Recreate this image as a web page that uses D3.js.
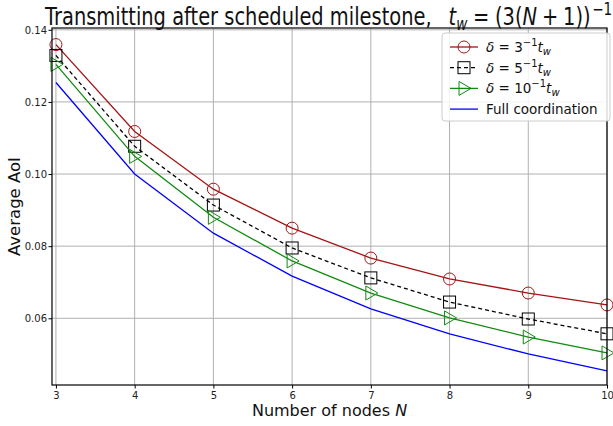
<!DOCTYPE html>
<html>
<head>
<meta charset="utf-8">
<script src="https://cdn.jsdelivr.net/npm/d3@7"></script>
<style>
  body { margin: 0; background: #fff; }
  text { font-family: "DejaVu Sans", sans-serif; }
</style>
</head>
<body>
<div id="chart"></div>
<script>
var svgWidth = 613;
var svgHeight = 426;

var margin = { top: 28, right: 6, bottom: 41, left: 52 };
var width = svgWidth - margin.left - margin.right;
var height = svgHeight - margin.top - margin.bottom;

// data
var nodes = [3, 4, 5, 6, 7, 8, 9, 10];
var delta3 = [0.1359, 0.1118, 0.0958, 0.0850, 0.0767, 0.0709, 0.0670, 0.0637];
var delta5 = [0.1329, 0.1077, 0.0914, 0.0795, 0.0712, 0.0645, 0.0598, 0.0557];
var delta10 = [0.1304, 0.1049, 0.0880, 0.0759, 0.0670, 0.0601, 0.0548, 0.0504];
var fullCoord = [0.1254, 0.1000, 0.0836, 0.0717, 0.0626, 0.0557, 0.0501, 0.0454];
var yTicks = [0.06, 0.08, 0.10, 0.12, 0.14];

var series = [
  { values: delta3, color: "#a31515", dash: null, marker: "circle" },
  { values: delta5, color: "#000000", dash: "4,3", marker: "square" },
  { values: delta10, color: "#108a10", dash: null, marker: "triangle" },
  { values: fullCoord, color: "#0000ff", dash: null, marker: null }
];

var svg = d3.select("#chart")
  .append("svg")
  .attr("width", svgWidth)
  .attr("height", svgHeight);

var chartGroup = svg.append("g")
  .attr("transform", `translate(${margin.left}, ${margin.top})`);

var xScale = d3.scaleLinear().domain([2.95, 10.0]).range([0, width]);
var yScale = d3.scaleLinear().domain([0.0415, 0.1405]).range([height, 0]);

// grid
chartGroup.append("g")
  .selectAll("line")
  .data(nodes)
  .enter()
  .append("line")
  .attr("x1", d => xScale(d)).attr("x2", d => xScale(d))
  .attr("y1", 0).attr("y2", height)
  .attr("stroke", "#b0b0b0").attr("stroke-width", 1);

chartGroup.append("g")
  .selectAll("line")
  .data(yTicks)
  .enter()
  .append("line")
  .attr("x1", 0).attr("x2", width)
  .attr("y1", d => yScale(d)).attr("y2", d => yScale(d))
  .attr("stroke", "#b0b0b0").attr("stroke-width", 1);

// axes
var bottomAxis = d3.axisBottom(xScale).tickValues(nodes).tickSize(3.5).tickFormat(d3.format("d"));
var leftAxis = d3.axisLeft(yScale).tickValues(yTicks).tickSize(3.5).tickFormat(d3.format(".2f"));

var xAxis = chartGroup.append("g")
  .attr("transform", `translate(0, ${height})`)
  .call(bottomAxis);
var yAxis = chartGroup.append("g").call(leftAxis);

[xAxis, yAxis].forEach(function (ax) {
  ax.select(".domain").remove();
  ax.selectAll("text").attr("font-size", 10).attr("fill", "#222")
    .style("font-family", "DejaVu Sans, sans-serif");
  ax.selectAll("line").attr("stroke", "#000");
});
yAxis.selectAll("text").attr("x", -5);

// lines and markers
var line = d3.line()
  .x((d, i) => xScale(nodes[i]))
  .y(d => yScale(d));

function drawMarker(g, type, color, x, y) {
  if (type === "circle") {
    g.append("circle").attr("cx", x).attr("cy", y).attr("r", 6)
      .attr("fill", "none").attr("stroke", color).attr("stroke-width", 1);
  } else if (type === "square") {
    g.append("rect").attr("x", x - 6).attr("y", y - 6).attr("width", 12).attr("height", 12)
      .attr("fill", "none").attr("stroke", color).attr("stroke-width", 1);
  } else if (type === "triangle") {
    g.append("path")
      .attr("d", `M${x + 7},${y} L${x - 5},${y - 7} L${x - 5},${y + 7} Z`)
      .attr("fill", "none").attr("stroke", color).attr("stroke-width", 1);
  }
}

var plotArea = chartGroup.append("g");
series.forEach(function (s) {
  plotArea.append("path")
    .datum(s.values)
    .attr("d", line)
    .attr("fill", "none")
    .attr("stroke", s.color)
    .attr("stroke-width", 1.3)
    .attr("stroke-dasharray", s.dash);
  if (s.marker) {
    s.values.forEach(function (v, i) {
      drawMarker(plotArea, s.marker, s.color, xScale(nodes[i]), yScale(v));
    });
  }
});

// frame
chartGroup.append("rect")
  .attr("width", width).attr("height", height)
  .attr("fill", "none").attr("stroke", "#000").attr("stroke-width", 1.2);

// legend
var legend = svg.append("g").attr("transform", "translate(442, 33)");
legend.append("rect")
  .attr("width", 168).attr("height", 88).attr("rx", 3)
  .attr("fill", "#fff").attr("fill-opacity", 0.85)
  .attr("stroke", "#ccc").attr("stroke-width", 1);

var legendNums = ["3", "5", "10"];
var legendLast = "Full coordination";

series.forEach(function (s, i) {
  var y = 14 + i * 20.7;
  legend.append("line")
    .attr("x1", 8).attr("x2", 36).attr("y1", y).attr("y2", y)
    .attr("stroke", s.color).attr("stroke-width", 1.3)
    .attr("stroke-dasharray", s.dash);
  if (s.marker) drawMarker(legend, s.marker, s.color, 22, y);
  var t = legend.append("text").attr("x", 44).attr("y", y + 5).attr("font-size", 13.5).attr("fill", "#111");
  if (i < 3) {
    t.append("tspan").attr("font-style", "italic").text("δ");
    t.append("tspan").text(" = " + legendNums[i]);
    t.append("tspan").attr("font-size", 10).attr("dy", -6).text("−1");
    t.append("tspan").attr("font-style", "italic").attr("dy", 6).text("t");
    t.append("tspan").attr("font-style", "italic").attr("font-size", 10).attr("dy", 3).text("w");
  } else {
    t.text(legendLast);
  }
});

// title (the reference is squeezed horizontally)
var title = svg.append("text")
  .attr("transform", "translate(45, 25) scale(0.81, 1)")
  .attr("font-size", 24)
  .attr("fill", "#111");
title.append("tspan").text("Transmitting after scheduled milestone,");
title.append("tspan").attr("dx", 21).attr("font-style", "italic").text("t");
title.append("tspan").attr("font-style", "italic").attr("font-size", 16.8).attr("dy", 5).text("w");
title.append("tspan").attr("dy", -5).attr("dx", 7).text("=");
title.append("tspan").attr("dx", 7).text("(3(");
title.append("tspan").attr("font-style", "italic").text("N");
title.append("tspan").attr("dx", 6).text("+");
title.append("tspan").attr("dx", 6).text("1))");
title.append("tspan").attr("dx", 2).attr("font-size", 16.8).attr("dy", -10).text("−1");

// axis labels
svg.append("text")
  .attr("x", margin.left + width / 2).attr("y", 416)
  .attr("text-anchor", "middle").attr("font-size", 16).attr("fill", "#111")
  .call(function (t) {
    t.append("tspan").text("Number of nodes ");
    t.append("tspan").attr("font-style", "italic").text("N");
  });

svg.append("text")
  .attr("transform", `translate(20, ${margin.top + height / 2}) rotate(-90)`)
  .attr("text-anchor", "middle").attr("font-size", 16.5).attr("fill", "#111")
  .text("Average AoI");
</script>
</body>
</html>
